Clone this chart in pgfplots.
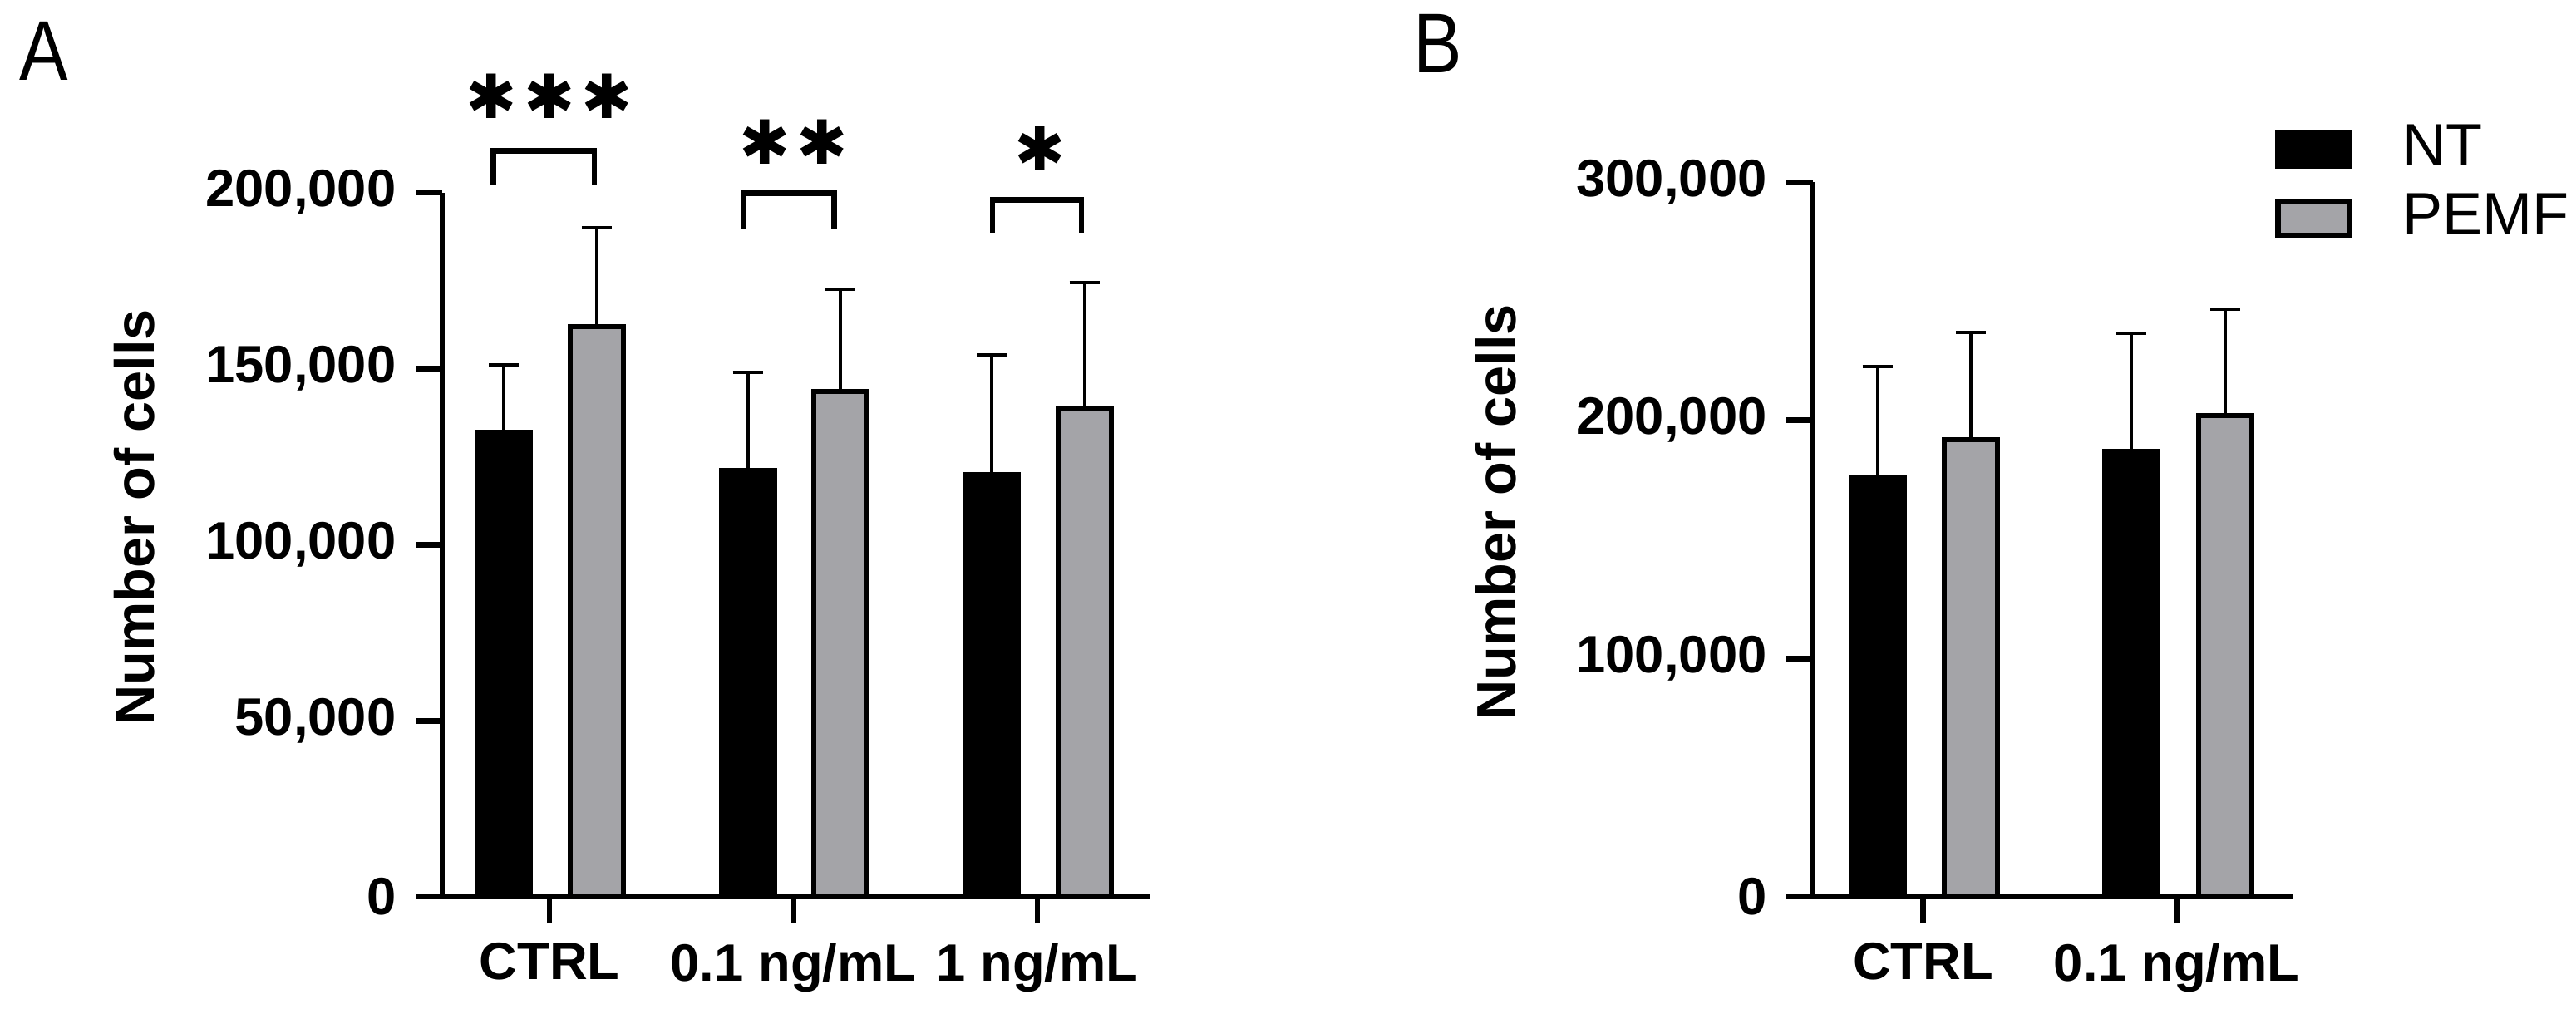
\documentclass[border=0pt]{standalone}
\usepackage{pgfplots}
\pgfplotsset{compat=1.18}
\usepackage{fontspec}
\setmainfont{Liberation Sans}
\newfontfamily\djv{DejaVu Sans}
\usepackage{graphicx}

\definecolor{barGray}{RGB}{164,164,168}
\newcommand{\st}{{\djv\fontsize{11}{12}\selectfont ✱}}
\newcommand{\stsp}{\hspace{1.2pt}}

\pgfplotsset{
  panel/.style={
    scale only axis, anchor=south west,
    axis x line*=bottom, axis y line*=left,
    axis line style={line width=1pt, black, -},
    enlargelimits=false, clip=false,
    tick align=outside, major tick length=4.8pt,
    tick style={line width=1pt, black},
    scaled y ticks=false,
    ymin=0,
    xtick={0,1,2},
    /pgf/number format/.cd, fixed, precision=0, 1000 sep={,}, assume math mode=true, /pgfplots/.cd,
    tick label style={font=\bfseries\fontsize{9.5}{11}\selectfont},
    ylabel={Number of cells},
  },
  barleg/.style={legend image code/.code={\draw[##1, line width=1pt] (0pt,-3.02pt) rectangle (12.95pt,3.02pt);}},
  ntbar/.style={ybar, bar width=9.6pt, bar shift=0pt, fill=black, draw=black, line width=0.9pt, barleg,
    error bars/.cd, y dir=plus, y explicit, error bar style={line width=0.6pt, black},
    error mark options={rotate=90, mark size=2.7pt, line width=0.6pt, black}},
  pmbar/.style={ybar, bar width=9.6pt, bar shift=0pt, fill=barGray, draw=black, line width=0.9pt, barleg,
    error bars/.cd, y dir=plus, y explicit, error bar style={line width=0.6pt, black},
    error mark options={rotate=90, mark size=2.7pt, line width=0.6pt, black}},
}

\begin{document}
\begin{tikzpicture}
\path[use as bounding box] (0pt,0pt) rectangle (464.85pt,182.85pt);

% Panel A
\begin{axis}[panel,
  at={(79.8pt,21pt)}, width=127.65pt, height=127.1pt,
  xmin=-0.44, xmax=2.46, ymax=200000,
  ytick={0,50000,100000,150000,200000},
  xticklabels={CTRL, 0.1 ng/mL, 1 ng/mL},
  every axis y label/.style={at={(axis description cs:-0.435,0.539)}, rotate=90, anchor=center,
    font=\bfseries\fontsize{10}{12}\selectfont},
]
\addplot[ntbar] coordinates {(-0.187,132000) +- (0,19000) (0.813,121000) +- (0,28000) (1.813,120000) +- (0,34000)};
\addplot[pmbar] coordinates {(0.193,162000) +- (0,28000) (1.193,143500) +- (0,29000) (2.193,138500) +- (0,36000)};
\draw[line width=1pt, line join=miter] (axis cs:-0.231,202400) |- (axis cs:0.184,211900) -- (axis cs:0.184,202400);
\draw[line width=1pt, line join=miter] (axis cs:0.796,189600) |- (axis cs:1.167,199800) -- (axis cs:1.167,189600);
\draw[line width=1pt, line join=miter] (axis cs:1.816,188700) |- (axis cs:2.180,197900) -- (axis cs:2.180,188700);
\node[inner sep=0pt] at (axis cs:0,227300) {\st\stsp\st\stsp\st};
\node[inner sep=0pt] at (axis cs:1,214400) {\st\stsp\st};
\node[inner sep=0pt] at (axis cs:2.01,212500) {\st};
\end{axis}

% Panel B
\begin{axis}[panel,
  at={(327.15pt,21pt)}, width=86.7pt, height=129pt,
  xmin=-0.434, xmax=1.46, ymax=300000,
  ytick={0,100000,200000,300000},
  xtick={0,1},
  xticklabels={CTRL, 0.1 ng/mL},
  every axis y label/.style={at={(axis description cs:-0.659,0.538)}, rotate=90, anchor=center,
    font=\bfseries\fontsize{10}{12}\selectfont},
  legend style={draw=none, fill=none, at={(axis description cs:0.962,1.08)}, anchor=north west,
    font=\fontsize{10.8}{12}\selectfont, inner sep=0pt, outer sep=0pt,
    nodes={inner sep=0pt}, row sep=3.5pt,
    /tikz/every odd column/.append style={column sep=9pt}},
  legend cell align=left,
]
\addplot[ntbar] coordinates {(-0.18,176000) +- (0,46500) (0.82,187000) +- (0,49500)};
\addplot[pmbar] coordinates {(0.19,192000) +- (0,45000) (1.19,202000) +- (0,44500)};
\legend{NT, PEMF}
\end{axis}

\node[font=\fontsize{15.3}{16}\selectfont, inner sep=0pt] at (7.95pt,173.6pt) {\scalebox{0.86}[1]{A}};
\node[font=\fontsize{15.3}{16}\selectfont, inner sep=0pt] at (259.4pt,174.97pt) {\scalebox{0.86}[1]{B}};
\end{tikzpicture}
\end{document}
